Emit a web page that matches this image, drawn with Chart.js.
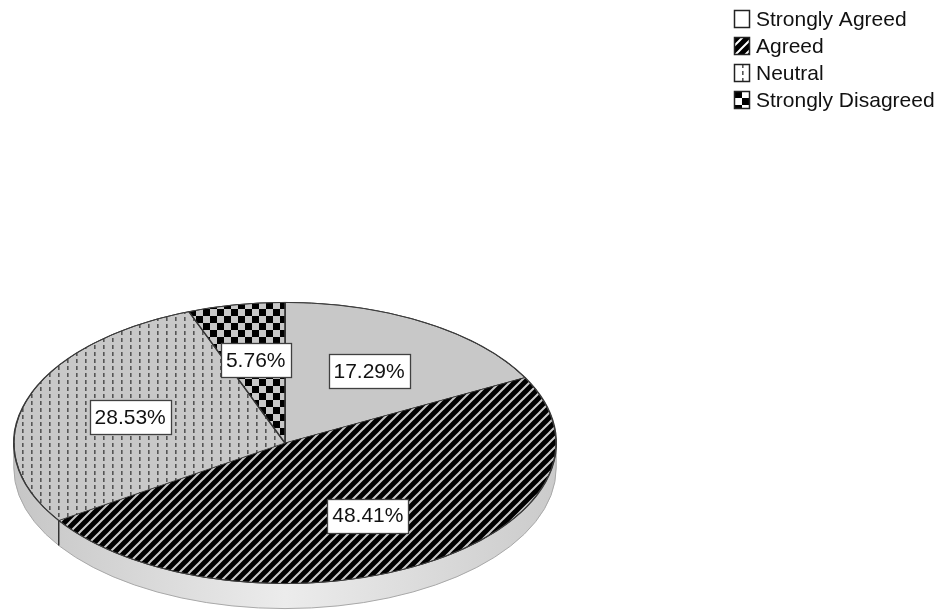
<!DOCTYPE html>
<html lang="en">
<head>
<meta charset="UTF-8">
<title>Agreement Pie</title>
<script src="https://cdn.jsdelivr.net/npm/chart.js"></script>
<style>
  body { margin: 0; background: #ffffff; }
  canvas { display: block; }
</style>
</head>
<body>
<canvas id="pieChart" width="937" height="616"></canvas>
<script>
const categories = ['Strongly Agreed', 'Agreed', 'Neutral', 'Strongly Disagreed'];
const shares = [17.29, 48.41, 28.53, 5.76];
const fillKinds = ['solid', 'stripes', 'dots', 'checker'];

// pie is squashed vertically to look tilted, with a rim underneath
const TILT = 141 / 272;
const RIM = 25;
const CENTER_Y = 443;
const LABEL_POS = 0.6;
const FONT = '21px "Liberation Sans", Arial, sans-serif';
const GREY = '#c8c8c8';

// hatch fills built on small tiles
function makeFill(kind, light, squash) {
  if (kind === 'solid') return light;
  const c = document.createElement('canvas');
  const g = c.getContext('2d');
  if (kind === 'stripes') {
    c.width = c.height = 10;
    g.fillStyle = '#000';
    g.fillRect(0, 0, 10, 10);
    g.strokeStyle = light;
    g.lineWidth = 2;
    g.beginPath();
    [0, 10, 20].forEach(o => { g.moveTo(o + 1, -1); g.lineTo(o - 11, 11); });
    g.stroke();
  } else if (kind === 'dots') {
    c.width = 9; c.height = 7;
    g.fillStyle = light;
    g.fillRect(0, 0, 9, 7);
    g.fillStyle = '#555555';
    g.fillRect(4, 1, 1.6, 4);
  } else if (kind === 'checker') {
    c.width = c.height = 14;
    g.fillStyle = light;
    g.fillRect(0, 0, 14, 14);
    g.fillStyle = '#000';
    g.fillRect(0, 0, 7, 7);
    g.fillRect(7, 7, 7, 7);
  }
  const p = g.createPattern(c, 'repeat');
  if (squash) p.setTransform(new DOMMatrix().scale(1, 1 / TILT));
  return p;
}

const ctx = document.getElementById('pieChart').getContext('2d');
const sliceFills = fillKinds.map(k => makeFill(k, GREY, true));
const legendFills = fillKinds.map(k => makeFill(k, '#ffffff', false));

const tiltPlugin = {
  id: 'tilt',
  beforeDatasetsDraw(chart) {
    const c = chart.ctx;
    const arcs = chart.getDatasetMeta(0).data;
    const cx = arcs[0].x, r = arcs[0].outerRadius, ry = r * TILT;

    // rim under the front half
    c.save();
    const grad = c.createLinearGradient(cx - r, 0, cx + r, 0);
    grad.addColorStop(0, '#c6c6c6');
    grad.addColorStop(0.5, '#ececec');
    grad.addColorStop(1, '#cbcbcb');
    c.fillStyle = grad;
    c.beginPath();
    c.moveTo(cx + r, CENTER_Y);
    c.lineTo(cx + r, CENTER_Y + RIM);
    c.ellipse(cx, CENTER_Y + RIM, r, ry, 0, 0, Math.PI);
    c.lineTo(cx - r, CENTER_Y);
    c.closePath();
    c.fill();
    c.strokeStyle = '#a8a8a8';
    c.lineWidth = 1;
    c.stroke();

    // slice edges where they meet the rim
    c.strokeStyle = '#333';
    c.lineWidth = 1.5;
    arcs.forEach(a => {
      const s = Math.sin(a.startAngle);
      if (s > 0.05) {
        const px = cx + Math.cos(a.startAngle) * r;
        const py = CENTER_Y + s * ry;
        c.beginPath();
        c.moveTo(px, py);
        c.lineTo(px, py + RIM);
        c.stroke();
      }
    });
    c.restore();

    // squash the top face
    c.save();
    c.translate(0, CENTER_Y);
    c.scale(1, TILT);
    c.translate(0, -arcs[0].y);
  },
  afterDatasetsDraw(chart) {
    const c = chart.ctx;
    c.restore();
    const arcs = chart.getDatasetMeta(0).data;
    const cx = arcs[0].x, r = arcs[0].outerRadius, ry = r * TILT;

    c.save();
    c.strokeStyle = '#3c3c3c';
    c.lineWidth = 1;
    c.beginPath();
    c.ellipse(cx, CENTER_Y, r, ry, 0, 0, Math.PI * 2);
    c.stroke();

    // percentage boxes
    c.font = FONT;
    c.textAlign = 'center';
    c.textBaseline = 'middle';
    arcs.forEach((a, i) => {
      const mid = (a.startAngle + a.endAngle) / 2;
      const lx = cx + Math.cos(mid) * r * LABEL_POS;
      const ly = CENTER_Y + Math.sin(mid) * ry * LABEL_POS;
      const text = shares[i].toFixed(2) + '%';
      const w = Math.round(c.measureText(text).width + 10);
      const h = 34;
      const bx = Math.round(lx - w / 2) + 0.5, by = Math.round(ly - h / 2) + 0.5;
      c.fillStyle = '#ffffff';
      c.fillRect(bx, by, w, h);
      c.strokeStyle = '#404040';
      c.lineWidth = 1.3;
      c.strokeRect(bx, by, w, h);
      c.fillStyle = '#111';
      c.fillText(text, lx, ly + 1);
    });
    c.restore();
  },
  afterDraw(chart) {
    // legend in the top right corner
    const c = chart.ctx;
    c.save();
    c.font = FONT;
    c.textAlign = 'left';
    c.textBaseline = 'middle';
    categories.forEach((name, i) => {
      const top = 10 + i * 27;
      c.fillStyle = legendFills[i];
      c.fillRect(734, top, 16, 18);
      c.strokeStyle = '#222';
      c.lineWidth = 1.5;
      c.strokeRect(734.5, top + 0.5, 15, 17);
      c.fillStyle = '#111';
      c.fillText(name, 756, top + 10);
    });
    c.restore();
  }
};

new Chart(ctx, {
  type: 'pie',
  data: {
    labels: categories,
    datasets: [{
      data: shares,
      backgroundColor: sliceFills,
      borderColor: '#333333',
      borderWidth: 1.6,
      clip: false
    }]
  },
  options: {
    responsive: false,
    animation: false,
    events: [],
    layout: { padding: { left: 13, right: 380, top: 0, bottom: 72 } },
    plugins: {
      legend: { display: false },
      tooltip: { enabled: false }
    }
  },
  plugins: [tiltPlugin]
});
</script>
</body>
</html>
